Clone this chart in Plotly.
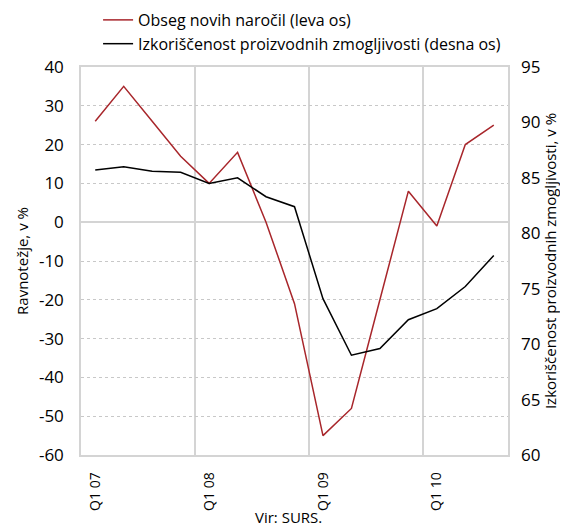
"""Obseg novih naročil in izkoriščenost proizvodnih zmogljivosti."""

import plotly.graph_objects as go

QUARTERS = [
    'Q1 07', 'Q2 07', 'Q3 07', 'Q4 07',
    'Q1 08', 'Q2 08', 'Q3 08', 'Q4 08',
    'Q1 09', 'Q2 09', 'Q3 09', 'Q4 09',
    'Q1 10', 'Q2 10', 'Q3 10',
]
NEW_ORDERS = [26, 35, 26, 17, 10, 18, 0, -21, -55, -48, -20, 8, -1, 20, 25]
CAPACITY_UTIL = [85.7, 86.0, 85.6, 85.5, 84.5, 85.0, 83.3, 82.4,
                 74.1, 69.0, 69.6, 72.2, 73.2, 75.2, 78.0]
LEFT_TICKS = [-60, -50, -40, -30, -20, -10, 0, 10, 20, 30, 40]
RIGHT_TICKS = [60, 65, 70, 75, 80, 85, 90, 95]

FONT = 'Open Sans'
GRID = '#d4d4d4'

# numeric positions for the quarters; labels only on Q1 of each year
x_pos = list(range(len(QUARTERS)))
tick_pos = [i for i, q in enumerate(QUARTERS) if q.startswith('Q1')]
tick_text = [QUARTERS[i] for i in tick_pos]
# year boundaries sit half a quarter before each Q1
year_bounds = [i - 0.5 for i in tick_pos[1:]]

fig = go.Figure()

fig.add_trace(go.Scatter(
    x=x_pos, y=NEW_ORDERS, mode='lines',
    name='Obseg novih naročil (leva os)',
    line=dict(color='#a8262b', width=1.5),
    legendgroup='a',
))
fig.add_trace(go.Scatter(
    x=x_pos, y=CAPACITY_UTIL, mode='lines',
    name='Izkoriščenost proizvodnih zmogljivosti (desna os)',
    line=dict(color='black', width=1.5),
    yaxis='y2', legendgroup='b',
))

# the page body adds an 8px margin, so the figure is 8px smaller and the
# top/left margins are 8px less
fig.update_layout(
    width=560, height=520,
    margin=dict(l=73, r=60, t=59, b=73, autoexpand=False),
    plot_bgcolor='white',
    paper_bgcolor='white',
    font=dict(family=FONT, size=15, color='black'),
    showlegend=True,
    legend=dict(
        x=0.04, y=1.165, xanchor='left', yanchor='top',
        font=dict(size=16), tracegroupgap=0,
        bgcolor='rgba(0,0,0,0)',
    ),
    xaxis=dict(
        tickvals=tick_pos,
        ticktext=tick_text,
        tickangle=-90,
        ticklabelstandoff=10,
        showgrid=False,
        minor=dict(tickvals=year_bounds, showgrid=True,
                   gridcolor=GRID, gridwidth=1.5, ticks=''),
        showline=True, linecolor=GRID, linewidth=1.5, mirror=True,
        ticks='', tickfont=dict(size=14),
        range=[-0.5, len(QUARTERS) - 0.5],
        zeroline=False, automargin=False,
    ),
    yaxis=dict(
        range=[-60, 40],
        tickvals=LEFT_TICKS, ticktext=[str(v) for v in LEFT_TICKS],
        title=dict(text='Ravnotežje, v %', standoff=7,
                   font=dict(size=15)),
        showgrid=True, gridcolor='#c8c8c8', griddash='dot', gridwidth=1,
        zeroline=True, zerolinecolor=GRID, zerolinewidth=1.5,
        showline=True, linecolor=GRID, linewidth=1.5, mirror=True,
        ticks='', tickfont=dict(size=17), ticklabelstandoff=12,
        automargin=False,
    ),
    yaxis2=dict(
        range=[60, 95],
        tickvals=RIGHT_TICKS, ticktext=[str(v) for v in RIGHT_TICKS],
        overlaying='y', side='right',
        title=dict(text='Izkoriščenost proizvodnih zmogljivosti, v %',
                   standoff=5, font=dict(size=15)),
        showgrid=False, zeroline=False,
        ticks='', tickfont=dict(size=17), ticklabelstandoff=12,
        automargin=False,
    ),
    annotations=[dict(
        text='Vir: SURS.', xref='paper', yref='paper',
        x=0.487, y=-0.16, xanchor='center', yanchor='middle',
        showarrow=False, font=dict(size=15),
    )],
)

fig.write_html('out.html')
